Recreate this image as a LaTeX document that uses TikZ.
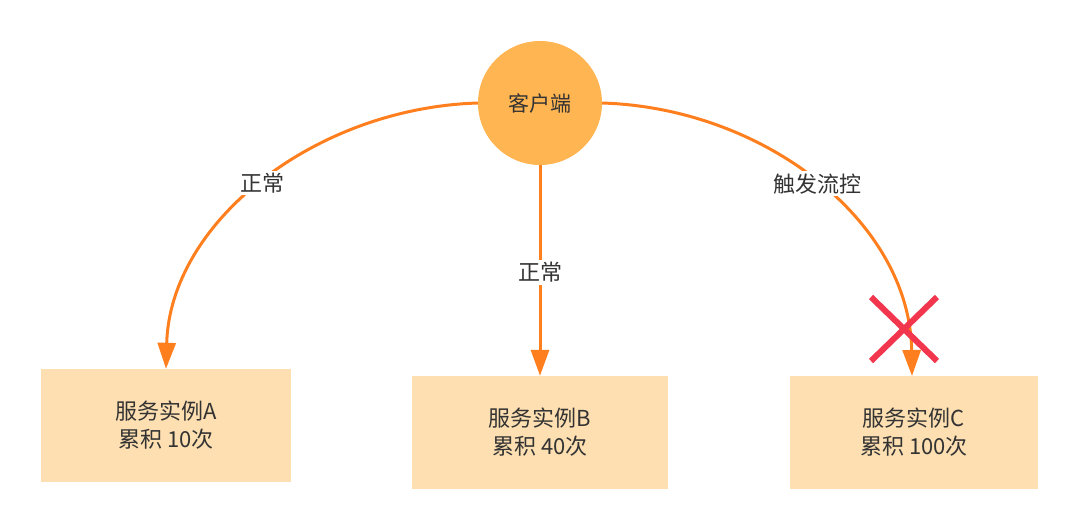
\documentclass[tikz,border=0pt]{standalone}
\usepackage{fontspec}
\setmainfont{Noto Sans CJK SC}
\usetikzlibrary{arrows.meta}
\definecolor{lineor}{HTML}{FF7F1E}
\definecolor{circfill}{HTML}{FFB552}
\definecolor{boxfill}{HTML}{FDDFB1}
\definecolor{txt}{HTML}{333333}
\definecolor{xred}{HTML}{F2364E}
\tikzset{
  svc/.style={draw=none, fill=boxfill, minimum width=#1, minimum height=113pt, align=center, font=\fontsize{22pt}{28pt}\selectfont, text=txt, inner sep=0pt},
  conn/.style={draw=lineor, line width=3pt, -{Triangle[length=26pt,width=18pt]}},
  lbl/.style={fill=white, font=\fontsize{22pt}{24pt}\selectfont, text=txt, inner sep=2pt},
  cross/.style={draw=xred, line width=6pt}
}
\begin{document}
\begin{tikzpicture}[x=1pt,y=-1pt]
\useasboundingbox (0,0) rectangle (1080,531);
\node[circle, fill=circfill, minimum size=124pt, inner sep=0pt, font=\fontsize{21pt}{24pt}\selectfont, text=txt] (client) at (540,103) {客户端};
\node[svc=250pt] (a) at (166,425.5) {服务实例A\\累积 10次};
\node[svc=256pt] (b) at (540,432.5) {服务实例B\\累积 40次};
\node[svc=248pt] (c) at (914,432.5) {服务实例C\\累积 100次};
\draw[conn] (client.west) .. controls (315,108) and (170,222) .. (a.north) node[lbl, pos=0.5] {正常};
\draw[conn] (client.south) -- (b.north) node[lbl, pos=0.51] {正常};
\draw[conn] (client.east) .. controls (765,108) and (910,222) .. (912,376) coordinate (ctip) node[lbl, pos=0.5] {触发流控};
\coordinate (x1) at (871,297);
\coordinate (x2) at (937,361);
\coordinate (x3) at (937,297);
\coordinate (x4) at (871,361);
\draw[cross] (x1) -- (x2);
\draw[cross] (x3) -- (x4);
\end{tikzpicture}
\end{document}
